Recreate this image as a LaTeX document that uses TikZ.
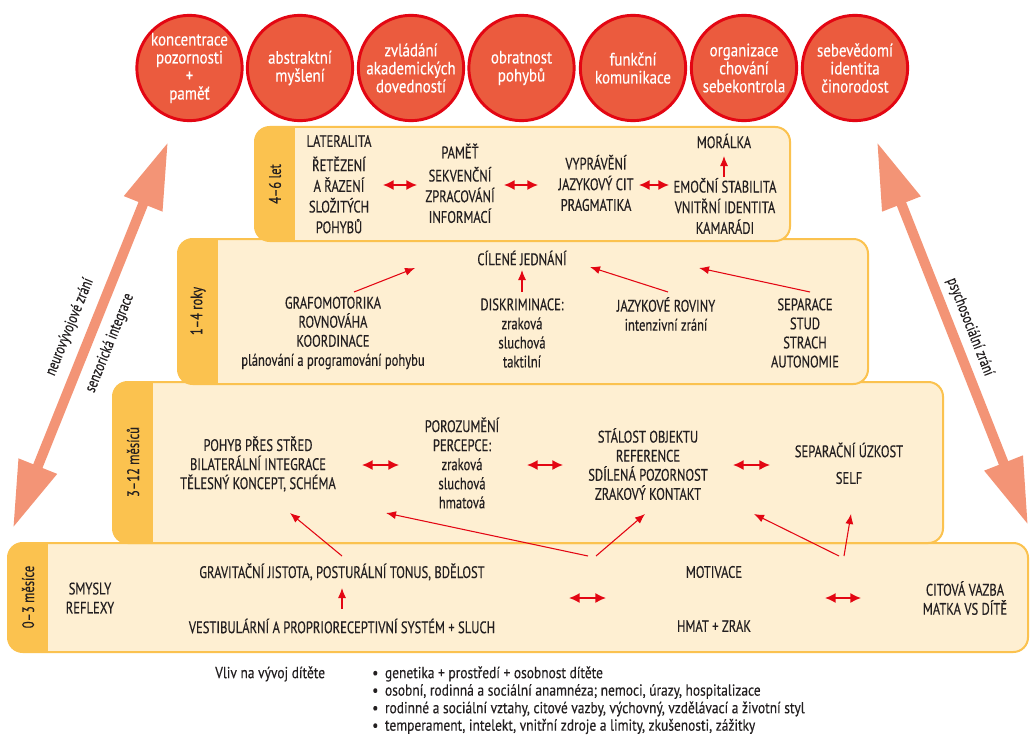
\documentclass[tikz,border=0pt]{standalone}
\usepackage{fontspec}
\setmainfont[FakeStretch=0.755,FakeBold=0.35]{PT Sans}
\newfontfamily\circfont[FakeStretch=0.83,FakeBold=0.3]{PT Sans}
\newfontfamily\smallfont[FakeStretch=0.84,FakeBold=0.25]{PT Sans}
\usetikzlibrary{arrows.meta}
\definecolor{cream}{HTML}{FEEFD2}
\definecolor{gold}{HTML}{FBC24F}
\definecolor{circfill}{HTML}{EB5B3E}
\definecolor{circline}{HTML}{E30613}
\definecolor{redarr}{HTML}{E30613}
\definecolor{salmon}{HTML}{F39476}
\definecolor{ink}{HTML}{231F20}
\begin{document}
\begin{tikzpicture}[x=0.75pt,y=-0.75pt,
  every node/.style={text=ink, inner sep=0pt},
  txt/.style={align=center, font=\fontsize{12.5}{14.3}\selectfont},
  txtb/.style={align=center, font=\fontsize{12.5}{15.5}\selectfont},
  circ/.style={circle, fill=circfill, draw=circline, line width=2.2pt, minimum size=79pt, text=white, align=center, font=\circfont\fontsize{13.5}{13.5}\selectfont},
  tab/.style={rotate=90, font=\fontsize{12.5}{14}\selectfont},
  dbl/.style={redarr, line width=1.1pt, {Latex[length=8pt,width=7.5pt]}-{Latex[length=8pt,width=7.5pt]}},
  one/.style={redarr, line width=0.8pt, -{Latex[length=7.5pt,width=6pt]}},
  big/.style={salmon, line width=7.5pt, {Triangle[length=50pt,width=29pt]}-{Triangle[length=50pt,width=29pt]}},
  side/.style={font=\fontsize{12}{13}\selectfont},
  lvl/.style={draw=gold, line width=1.5pt, rounded corners=11pt},
  small/.style={anchor=west, font=\smallfont\fontsize{12}{13}\selectfont},
]
\fill[white] (0,0) rectangle (1030,738);
\useasboundingbox (0,0) rectangle (1030,738);

% ---------- level boxes (bottom first) ----------
\begin{scope}
  \clip[rounded corners=11pt] (8,543) rectangle (1028,652);
  \fill[cream] (8,543) rectangle (1028,652);
  \fill[gold] (8,543) rectangle (48,652);
\end{scope}
\draw[lvl] (8,543) rectangle (1028,652);

\begin{scope}
  \clip[rounded corners=11pt] (113,382) rectangle (943,543);
  \fill[cream] (113,382) rectangle (943,543);
  \fill[gold] (113,382) rectangle (153,543);
\end{scope}
\draw[lvl] (113,382) rectangle (943,543);

\begin{scope}
  \clip[rounded corners=11pt] (178,239) rectangle (868,384);
  \fill[cream] (178,239) rectangle (868,384);
  \fill[gold] (178,239) rectangle (218,384);
\end{scope}
\draw[lvl] (178,239) rectangle (868,384);

\begin{scope}
  \clip[rounded corners=11pt] (255,127) rectangle (790,241);
  \fill[cream] (255,127) rectangle (790,241);
  \fill[gold] (255,127) rectangle (295,241);
\end{scope}
\draw[lvl] (255,127) rectangle (790,241);

% ---------- tabs ----------
\node[tab] (t4) at (275,184) {4–6 let};
\node[tab] (t3) at (198,311) {1–4 roky};
\node[tab] (t2) at (133,462) {3–12 měsíců};
\node[tab] (t1) at (28,597) {0–3 měsíce};

% ---------- circles ----------
\node[circ] (c1) at (189.5,68) {koncentrace\\pozornosti\\+\\paměť};
\node[circ] (c2) at (300,68) {abstraktní\\myšlení};
\node[circ] (c3) at (411,68) {zvládání\\akademických\\dovedností};
\node[circ] (c4) at (521.5,68) {obratnost\\pohybů};
\node[circ] (c5) at (633,68) {funkční\\komunikace};
\node[circ] (c6) at (744,68) {organizace\\chování\\sebekontrola};
\node[circ] (c7) at (855,68) {sebevědomí\\identita\\činorodost};

% ---------- side arrows ----------
\coordinate (la) at (13,528);
\coordinate (lb) at (168,142);
\coordinate (ra) at (877,142);
\coordinate (rb) at (1028,525);
\draw[big] (la) -- (lb);
\draw[big] (ra) -- (rb);
\node[side, rotate=68] (neu) at (70,327) {neurovývojové zrání};
\node[side, rotate=68] (sen) at (110,343) {senzorická integrace};
\node[side, rotate=-68.5] (psy) at (970,327) {psychosociální zrání};

% ---------- level 4 ----------
\node[txt] (lat) at (339,141) {LATERALITA};
\node[txtb] (ret) at (339,195) {ŘETĚZENÍ\\A ŘAZENÍ\\SLOŽITÝCH\\POHYBŮ};
\node[txt] (pam) at (460,151) {PAMĚŤ};
\node[txtb] (sek) at (460,195) {SEKVENČNÍ\\ZPRACOVÁNÍ\\INFORMACÍ};
\node[txtb] (vyp) at (596,183) {VYPRÁVĚNÍ\\JAZYKOVÝ CIT\\PRAGMATIKA};
\node[txt] (mor) at (724,141) {MORÁLKA};
\node[txtb] (emo) at (725,206) {EMOČNÍ STABILITA\\VNITŘNÍ IDENTITA\\KAMARÁDI};
\coordinate (d4a) at (383,185); \coordinate (d4b) at (417,185);
\coordinate (d4c) at (504,185); \coordinate (d4d) at (538,185);
\coordinate (d4e) at (639,185); \coordinate (d4f) at (669,185);
\draw[dbl] (d4a) -- (d4b);
\draw[dbl] (d4c) -- (d4d);
\draw[dbl] (d4e) -- (d4f);
\coordinate (m4a) at (724,177); \coordinate (m4b) at (724,156);
\draw[one] (m4a) -- (m4b);

% ---------- level 3 ----------
\node[txt] (cil) at (522,258) {CÍLENÉ JEDNÁNÍ};
\node[txt] (gra) at (333,333) {GRAFOMOTORIKA\\ROVNOVÁHA\\KOORDINACE\\plánování a programování pohybu};
\node[txt] (dis) at (522,333) {DISKRIMINACE:\\zraková\\sluchová\\taktilní};
\node[txt] (jaz) at (666,314) {JAZYKOVÉ ROVINY\\intenzivní zrání};
\node[txt] (sep) at (805,333) {SEPARACE\\STUD\\STRACH\\AUTONOMIE};
\coordinate (a3a) at (354,292); \coordinate (a3b) at (415,268);
\coordinate (a3c) at (522,292); \coordinate (a3d) at (522,270);
\coordinate (a3e) at (668,292); \coordinate (a3f) at (590,267);
\coordinate (a3g) at (810,292); \coordinate (a3h) at (699,268);
\draw[one] (a3a) -- (a3b);
\draw[one] (a3c) -- (a3d);
\draw[one] (a3e) -- (a3f);
\draw[one] (a3g) -- (a3h);

% ---------- level 2 ----------
\node[txt] (poh) at (258,464) {POHYB PŘES STŘED\\BILATERÁLNÍ INTEGRACE\\TĚLESNÝ KONCEPT, SCHÉMA};
\node[txt] (por) at (462,463) {POROZUMĚNÍ\\PERCEPCE:\\zraková\\sluchová\\hmatová};
\node[txt] (sta) at (648,464) {STÁLOST OBJEKTU\\REFERENCE\\SDÍLENÁ POZORNOST\\ZRAKOVÝ KONTAKT};
\node[txt] (suz) at (849,450) {SEPARAČNÍ ÚZKOST};
\node[txt] (self) at (849,478) {SELF};
\coordinate (d2a) at (362,465); \coordinate (d2b) at (399,465);
\coordinate (d2c) at (527,465); \coordinate (d2d) at (563,465);
\coordinate (d2e) at (733,465); \coordinate (d2f) at (770,465);
\draw[dbl] (d2a) -- (d2b);
\draw[dbl] (d2c) -- (d2d);
\draw[dbl] (d2e) -- (d2f);

% ---------- level 1 ----------
\node[txt] (smy) at (90,598) {SMYSLY\\REFLEXY};
\node[txt] (grv) at (342,572) {GRAVITAČNÍ JISTOTA, POSTURÁLNÍ TONUS, BDĚLOST};
\node[txt] (ves) at (342,626) {VESTIBULÁRNÍ A PROPRIORECEPTIVNÍ SYSTÉM + SLUCH};
\node[txt] (mot) at (714,572) {MOTIVACE};
\node[txt] (hmz) at (714,626) {HMAT + ZRAK};
\node[txt] (cit) at (965,598) {CITOVÁ VAZBA\\MATKA VS DÍTĚ};
\coordinate (u1a) at (342,609); \coordinate (u1b) at (342,588);
\draw[one] (u1a) -- (u1b);
\coordinate (d1a) at (569,598); \coordinate (d1b) at (606,598);
\coordinate (d1c) at (825,598); \coordinate (d1d) at (861,598);
\draw[dbl] (d1a) -- (d1b);
\draw[dbl] (d1c) -- (d1d);

% ---------- arrows level 1 -> level 2 ----------
\coordinate (s1) at (342,556); \coordinate (e1) at (290,513);
\coordinate (s2) at (588,556); \coordinate (e2) at (386,513);
\coordinate (s3) at (596,556); \coordinate (e3) at (645,514);
\coordinate (s4) at (839,556); \coordinate (e4) at (754,514);
\coordinate (s5) at (844,556); \coordinate (e5) at (851,514);
\draw[one] (s1) -- (e1);
\draw[one] (s2) -- (e2);
\draw[one] (s3) -- (e3);
\draw[one] (s4) -- (e4);
\draw[one] (s5) -- (e5);

% ---------- bottom text ----------
\node[small] (vliv) at (215,674) {Vliv na vývoj dítěte};
\node[small] (b1) at (372,674) {•\hspace{5pt}genetika + prostředí + osobnost dítěte};
\node[small] (b2) at (372,691.5) {•\hspace{5pt}osobní, rodinná a sociální anamnéza; nemoci, úrazy, hospitalizace};
\node[small] (b3) at (372,709) {•\hspace{5pt}rodinné a sociální vztahy, citové vazby, výchovný, vzdělávací a životní styl};
\node[small] (b4) at (372,726.5) {•\hspace{5pt}temperament, intelekt, vnitřní zdroje a limity, zkušenosti, zážitky};
\end{tikzpicture}
\end{document}
